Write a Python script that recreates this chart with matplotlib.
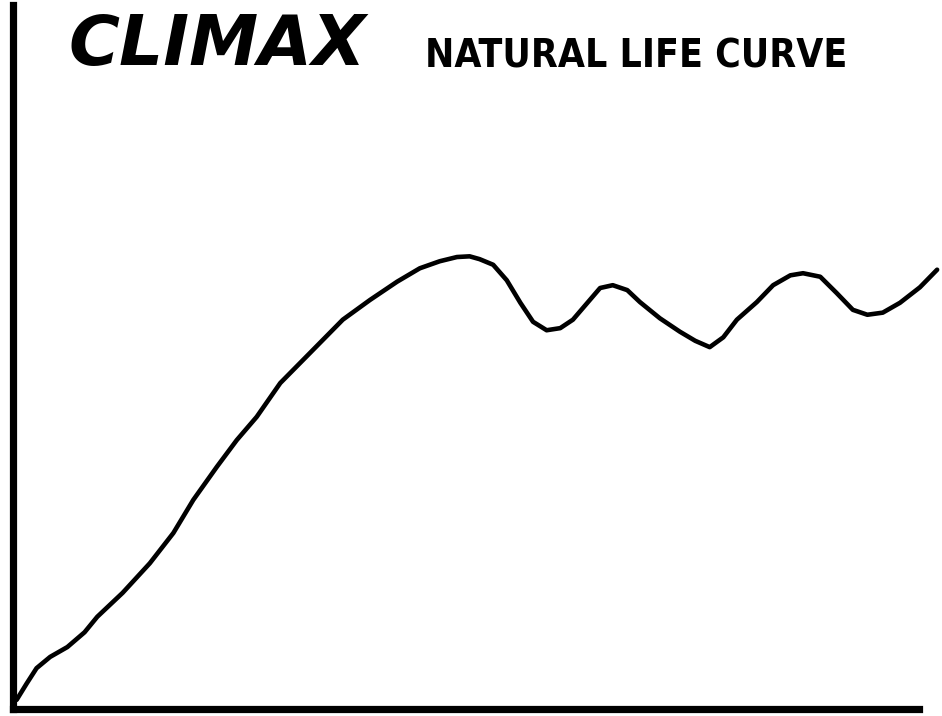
import matplotlib
matplotlib.use("Agg")
import matplotlib.pyplot as plt

# curve (x: time 0-100, y: growth 0-100)
t = [0.4, 1.5, 2.6, 4.1, 6.0, 7.9, 9.3, 12.1, 15.1, 17.7, 19.9, 22.5, 24.7,
     26.9, 29.5, 32.8, 36.4, 39.4, 42.4, 44.9, 47.1, 49.0, 50.4, 51.5,
     53.0, 54.5, 56.0, 57.4, 58.9, 60.4, 61.8, 63.4, 64.8, 66.2, 67.8, 69.2,
     71.4, 73.6, 75.3, 76.9, 78.4, 79.9, 82.1, 83.9, 85.8, 87.2, 89.1, 90.9,
     92.7, 94.3, 96.0, 97.9, 100.1, 102.0]
growth = [1.3, 3.6, 5.8, 7.4, 8.8, 10.9, 13.1, 16.5, 20.7, 25.0, 29.7, 34.4,
          38.2, 41.5, 46.3, 50.6, 55.3, 58.1, 60.7, 62.6, 63.6, 64.2,
          64.3, 63.9, 63.1, 60.9, 57.7, 55.0, 53.8, 54.1, 55.3, 57.7, 59.8,
          60.2, 59.5, 57.8, 55.5, 53.6, 52.3, 51.4, 52.8, 55.3, 57.8, 60.2,
          61.6, 61.9, 61.4, 59.1, 56.7, 56.0, 56.3, 57.7, 59.9, 62.4]

fig = plt.figure(figsize=(9.42, 7.16), dpi=100)
ax = fig.add_axes([13/942, 7/716, 906/942, 704/716])

ax.plot(t, growth, color='black', lw=3.3, solid_capstyle='round',
        solid_joinstyle='round', clip_on=False)

ax.set_xlim(0, 100)
ax.set_ylim(0, 100)
for s in ['top', 'right']:
    ax.spines[s].set_visible(False)
for s in ['left', 'bottom']:
    ax.spines[s].set_linewidth(5.2)
ax.set_xticks([])
ax.set_yticks([])

fig.text(68/942, 1 - 65/716, 'CLIMAX', fontsize=50, fontweight='heavy',
         family='DejaVu Sans', style='oblique', va='baseline')
fig.text(425/942, 1 - 68/716, 'NATURAL LIFE CURVE', fontsize=28,
         fontweight='bold', family='DejaVu Sans', fontstretch='condensed',
         va='baseline')

fig.savefig('out.png', dpi=100)
